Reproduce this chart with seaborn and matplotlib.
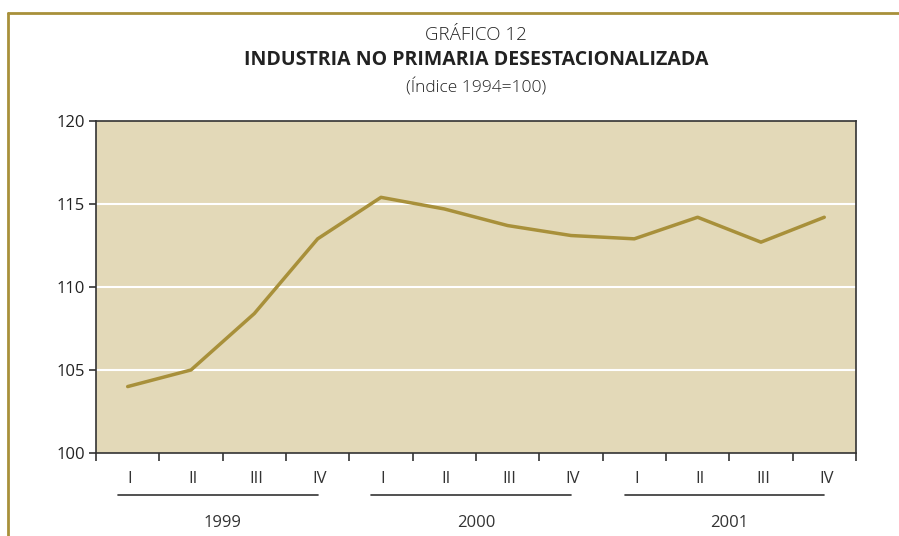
import numpy as np
import pandas as pd
import matplotlib.pyplot as plt
import seaborn as sns
from matplotlib.lines import Line2D
import matplotlib.transforms as mtransforms

# Data
years = ["1999", "2000", "2001"]
quarters = ["I", "II", "III", "IV"]
values = [104.0, 105.0, 108.4, 112.9,
          115.4, 114.7, 113.7, 113.1,
          112.9, 114.2, 112.7, 114.2]

df = pd.DataFrame({"t": np.arange(len(values)), "valor": values})

sns.set_style("white")
plt.rcParams["font.family"] = ["Open Sans", "DejaVu Sans"]

gold = "#A8903A"
fig = plt.figure(figsize=(8.99, 5.36), dpi=100)
ax = fig.add_axes([0.1068, 0.1549, 0.8453, 0.6194])
ax.set_facecolor("#E3D9B8")

# White horizontal gridlines
for yv in [105, 110, 115]:
    ax.axhline(yv, color="white", lw=1.5, zorder=1)

sns.lineplot(data=df, x="t", y="valor", color=gold, lw=2.5, ax=ax, zorder=3)

ax.set_xlim(-0.5, 11.5)
ax.set_ylim(100, 120)
ax.set_yticks([100, 105, 110, 115, 120])
ax.set_xlabel("")
ax.set_ylabel("")

# boundary ticks (no labels), quarter labels as minor ticks
ax.set_xticks(np.arange(-0.5, 12, 1))
ax.set_xticklabels([])
ax.set_xticks(np.arange(12) + 0.03, quarters * 3, minor=True)
ax.tick_params(axis="x", which="major", direction="out", length=6, width=1.2,
               color="#333333", bottom=True)
ax.tick_params(axis="x", which="minor", length=0, pad=13, labelsize=12,
               labelcolor="#333333")
ax.tick_params(axis="y", direction="out", length=5, width=1.2, color="#333333",
               left=True, labelsize=12, labelcolor="#222222", pad=3)

for s in ax.spines.values():
    s.set_visible(True)
    s.set_color("#333333")
    s.set_linewidth(1.2)

# year underline and label
trans = mtransforms.blended_transform_factory(ax.transData, ax.transAxes)
for i, yr in enumerate(years):
    x0 = i * 4 - 0.15
    x1 = i * 4 + 3.0
    ax.add_line(Line2D([x0, x1], [-0.126, -0.126], transform=trans,
                       color="#333333", lw=1.2, clip_on=False))
    ax.text(i * 4 + 1.5, -0.21, yr, transform=trans, ha="center", va="center",
            fontsize=12, color="#333333")

# titles
cx = 0.1068 + 0.8453 / 2
fig.text(cx, 0.935, "GRÁFICO 12", ha="center", va="center", fontsize=13.5,
         color="#222222", fontweight="light")
fig.text(cx, 0.888, "INDUSTRIA NO PRIMARIA DESESTACIONALIZADA", ha="center",
         va="center", fontsize=14, fontweight="bold", color="#222222")
fig.text(cx, 0.837, "(Índice 1994=100)", ha="center", va="center", fontsize=12.5,
         color="#222222", fontweight="light")

# gold frame on top and left
fig.add_artist(Line2D([0.0089, 1.0], [0.9757, 0.9757], color=gold, lw=2,
                      transform=fig.transFigure))
fig.add_artist(Line2D([0.0089, 0.0089], [0.0, 0.9757], color=gold, lw=2,
                      transform=fig.transFigure))

fig.savefig("out.png", dpi=100)
